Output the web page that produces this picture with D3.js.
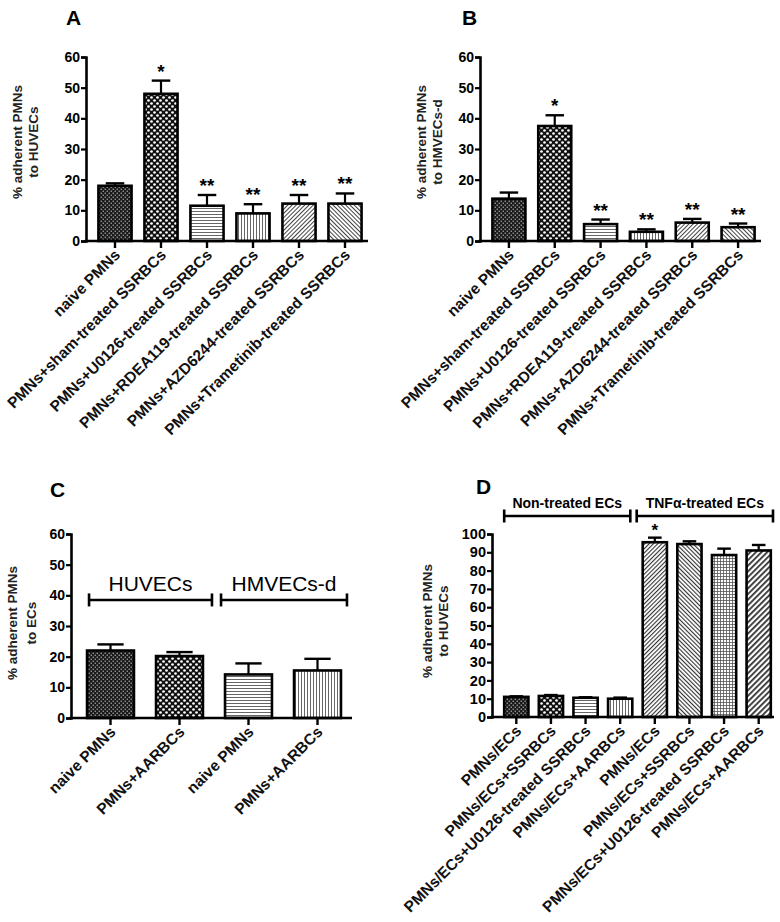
<!DOCTYPE html>
<html><head><meta charset="utf-8">
<script src="https://cdn.jsdelivr.net/npm/d3@7"></script>
<style>
body{margin:0;background:#fff;}
svg text{font-family:"Liberation Sans",Arial,sans-serif;}
</style></head>
<body><svg id="c" width="780" height="922"></svg>
<script>
// ---------- DATA ----------
const catsA = ["naive PMNs","PMNs+sham-treated SSRBCs","PMNs+U0126-treated SSRBCs","PMNs+RDEA119-treated SSRBCs","PMNs+AZD6244-treated SSRBCs","PMNs+Trametinib-treated SSRBCs"];
const valsA = [18, 48, 11.5, 9, 12.2, 12.2];
const errA  = [0.8, 4.3, 3.5, 3, 2.8, 3.3];
const starsA = ["", "*", "**", "**", "**", "**"];

const catsB = catsA;
const valsB = [13.8, 37.5, 5.5, 3, 6, 4.5];
const errB  = [2, 3.5, 1.5, 0.8, 1.2, 1.2];
const starsB = ["", "*", "**", "**", "**", "**"];

const catsC = ["naive PMNs","PMNs+AARBCs","naive PMNs ","PMNs+AARBCs "];
const valsC = [22, 20.2, 14.2, 15.5];
const errC  = [2, 1.3, 3.6, 3.8];
const groupsC = ["HUVECs","HMVECs-d"];

const catsD = ["PMNs/ECs","PMNs/ECs+SSRBCs","PMNs/ECs+U0126-treated SSRBCs","PMNs/ECs+AARBCs","PMNs/ECs ","PMNs/ECs+SSRBCs ","PMNs/ECs+U0126-treated SSRBCs ","PMNs/ECs+AARBCs "];
const valsD = [11, 11.5, 10.5, 10, 95.5, 94.5, 88.5, 91];
const errD  = [0.3, 0.5, 0.3, 0.6, 2.5, 1.5, 3.5, 3];
const starsD = ["", "", "", "", "*", "", "", ""];
const groupsD = ["Non-treated ECs","TNF\u03b1-treated ECs"];

const ticks60 = [0,10,20,30,40,50,60];
const ticks100 = [0,10,20,30,40,50,60,70,80,90,100];

// ---------- PATTERNS ----------
const svg = d3.select("#c");
const defs = svg.append("defs");
function pat(id, size, build){
  const p = defs.append("pattern").attr("id",id).attr("patternUnits","userSpaceOnUse")
    .attr("width",size).attr("height",size);
  p.append("rect").attr("width",size).attr("height",size).attr("fill","#fff");
  build(p, size);
}
pat("pDark",4,(p)=>{
  p.select("rect").attr("fill","#1a1a1a");
  p.append("rect").attr("x",0.6).attr("y",0.6).attr("width",1.3).attr("height",1.3).attr("fill","#aaa");
  p.append("rect").attr("x",2.6).attr("y",2.6).attr("width",1.3).attr("height",1.3).attr("fill","#aaa");
});
pat("pDots",6,(p)=>{
  p.select("rect").attr("fill","#111");
  p.append("circle").attr("cx",1.5).attr("cy",1.5).attr("r",1.35).attr("fill","#fff");
  p.append("circle").attr("cx",4.5).attr("cy",4.5).attr("r",1.35).attr("fill","#fff");
});
pat("pH",3,(p)=>{ p.append("rect").attr("x",0).attr("y",1).attr("width",3).attr("height",0.9).attr("fill","#555"); });
pat("pV",3,(p)=>{ p.append("rect").attr("x",1).attr("y",0).attr("width",0.9).attr("height",3).attr("fill","#555"); });
function diag(id,size,w,up,col){
  const p = defs.append("pattern").attr("id",id).attr("patternUnits","userSpaceOnUse")
    .attr("width",size).attr("height",size).attr("patternTransform",`rotate(${up?45:-45})`);
  p.append("rect").attr("width",size).attr("height",size).attr("fill","#fff");
  p.append("rect").attr("x",0).attr("y",0).attr("width",w).attr("height",size).attr("fill",col);
}
diag("pUp",3,1,true,"#444");
diag("pDown",3,1,false,"#444");
diag("pUpD",3,1.1,true,"#333");
diag("pDownD",3,1.1,false,"#333");
diag("pThick",4,1.8,true,"#333");
pat("pGrid",3,(p)=>{
  p.append("rect").attr("x",0).attr("y",0).attr("width",3).attr("height",0.8).attr("fill","#555");
  p.append("rect").attr("x",0).attr("y",0).attr("width",0.8).attr("height",3).attr("fill","#555");
});

const fillsA = ["pDark","pDots","pH","pV","pUp","pDown"];
const fillsC = ["pDark","pDots","pH","pV"];
const fillsD = ["pDark","pDots","pH","pV","pUpD","pDownD","pGrid","pThick"];

// ---------- PANEL ----------
function panel(o){
  const g = svg.append("g");
  const y = d3.scaleLinear().domain([0,o.ymax]).range([o.y0,o.ytop]);
  const x = d3.scaleBand().domain(o.cats).range([o.xr0,o.xr1]).paddingInner(o.pad).paddingOuter(o.pad/2);
  // bars
  g.selectAll("rect.bar").data(o.vals).enter().append("rect")
    .attr("x",(d,i)=>x(o.cats[i])).attr("width",x.bandwidth())
    .attr("y",d=>y(d)).attr("height",d=>o.y0-y(d))
    .attr("fill",(d,i)=>`url(#${o.fills[i]})`).attr("stroke","#000").attr("stroke-width",2.6);
  // error bars
  o.vals.forEach((v,i)=>{
    const cx = x(o.cats[i])+x.bandwidth()/2, cw = x.bandwidth()*0.28;
    const top = y(v+o.errs[i]);
    g.append("line").attr("x1",cx).attr("x2",cx).attr("y1",y(v)).attr("y2",top).attr("stroke","#000").attr("stroke-width",2.2);
    g.append("line").attr("x1",cx-cw).attr("x2",cx+cw).attr("y1",top).attr("y2",top).attr("stroke","#000").attr("stroke-width",2.4);
    if(o.stars && o.stars[i]){
      g.append("text").attr("x",cx).attr("y",top-o.starGap).attr("text-anchor","middle")
        .attr("font-size",o.starSize).attr("font-weight","bold").text(o.stars[i]);
    }
  });
  // y axis
  const ya = d3.axisLeft(y).tickValues(o.ticks).tickSize(5).tickPadding(1);
  const yg = g.append("g").attr("transform",`translate(${o.xa},0)`).call(ya);
  yg.select(".domain").attr("stroke-width",2.6);
  yg.selectAll(".tick line").attr("stroke-width",2.2);
  yg.selectAll(".tick text").attr("font-size",o.tickSize).attr("font-weight","bold").attr("fill","#000")
    .attr("font-family","'Liberation Sans',Arial,sans-serif");
  // x axis
  const xa = d3.axisBottom(x).tickSize(7).tickSizeOuter(0).tickFormat("");
  const xg = g.append("g").attr("transform",`translate(0,${o.y0})`).call(xa);
  xg.select(".domain").remove();
  xg.selectAll(".tick line").attr("stroke-width",2.4);
  g.append("line").attr("x1",o.xa-1.3).attr("x2",o.xend).attr("y1",o.y0).attr("y2",o.y0).attr("stroke","#000").attr("stroke-width",2.6);
  // x labels
  o.cats.forEach((c,i)=>{
    const cx = x(c)+x.bandwidth()/2;
    g.append("text").attr("transform",`translate(${cx+6},${o.y0+15}) rotate(-45)`)
      .attr("text-anchor","end").attr("font-size",o.labSize).attr("font-weight","bold").attr("fill","#111")
      .text(c.trim());
  });
  // y title
  o.ytitle.forEach((t,k)=>{
    g.append("text").attr("transform",`translate(${o.ytx[k]},${o.ytc}) rotate(-90)`)
      .attr("text-anchor","middle").attr("dominant-baseline","central")
      .attr("font-size",o.ytSize).attr("font-weight","bold").attr("fill","#222").text(t);
  });
  // letter
  g.append("text").attr("x",o.lx).attr("y",o.ly).attr("font-size",21).attr("font-weight","bold").text(o.letter);
  return {x,y,g};
}

panel({cats:catsA, vals:valsA, errs:errA, stars:starsA, fills:fillsA, ymax:60, y0:241, ytop:57,
  xr0:92, xr1:368, pad:0.28, xa:86, xend:368, ticks:ticks60, tickSize:14, labSize:15.5,
  starGap:3, starSize:19, ytitle:["% adherent PMNs","to HUVECs"], ytx:[17,33], ytc:142, ytSize:13.5,
  letter:"A", lx:66, ly:25});

panel({cats:catsB, vals:valsB, errs:errB, stars:starsB, fills:fillsA, ymax:60, y0:241, ytop:57,
  xr0:486, xr1:761, pad:0.28, xa:480, xend:761, ticks:ticks60, tickSize:14, labSize:15.5,
  starGap:3, starSize:19, ytitle:["% adherent PMNs","to HMVECs-d"], ytx:[421,437], ytc:142, ytSize:13.5,
  letter:"B", lx:462, ly:25});

const pc = panel({cats:catsC, vals:valsC, errs:errC, stars:null, fills:fillsC, ymax:60, y0:718, ytop:534,
  xr0:76, xr1:352, pad:0.32, xa:71, xend:352, ticks:ticks60, tickSize:14, labSize:15.5,
  starGap:3, starSize:19, ytitle:["% adherent PMNs","to ECs"], ytx:[12,31], ytc:623, ytSize:13.5,
  letter:"C", lx:50, ly:497});

const pd = panel({cats:catsD, vals:valsD, errs:errD, stars:starsD, fills:fillsD, ymax:100, y0:717, ytop:534,
  xr0:499, xr1:776, pad:0.3, xa:492, xend:774, ticks:ticks100, tickSize:14.5, labSize:15.5,
  starGap:2, starSize:17, ytitle:["% adherent PMNs","to HUVECs"], ytx:[427,443], ytc:621, ytSize:13.5,
  letter:"D", lx:476, ly:494});

// brackets
function bracket(g,x1,x2,yy,label,ty,fs,fw){
  g.append("line").attr("x1",x1).attr("x2",x2).attr("y1",yy).attr("y2",yy).attr("stroke","#000").attr("stroke-width",2.6);
  [x1,x2].forEach(xx=>g.append("line").attr("x1",xx).attr("x2",xx).attr("y1",yy-6.5).attr("y2",yy+6.5).attr("stroke","#000").attr("stroke-width",2.6));
  g.append("text").attr("x",(x1+x2)/2).attr("y",ty).attr("text-anchor","middle").attr("font-size",fs).attr("font-weight",fw).text(label);
}
{
  const x = pc.x, y = pc.y;
  const yy = y(38.5);
  const a0 = x(catsC[0])+2, a1 = x(catsC[1])+x.bandwidth()+9;
  const b0 = x(catsC[2])-4, b1 = x(catsC[3])+x.bandwidth()+6;
  bracket(pc.g,a0,a1,yy,groupsC[0],yy-9,21,"normal");
  bracket(pc.g,b0,b1,yy,groupsC[1],yy-9,21,"normal");
}
{
  const x = pd.x;
  const yy = 516;
  const a0 = x(catsD[0]), a1 = x(catsD[3])+x.bandwidth()-2;
  const b0 = x(catsD[4])-6, b1 = 773;
  bracket(pd.g,a0,a1,yy,groupsD[0],yy-8,14,"bold");
  bracket(pd.g,b0,b1,yy,groupsD[1],yy-8,14,"bold");
}
</script></body></html>
